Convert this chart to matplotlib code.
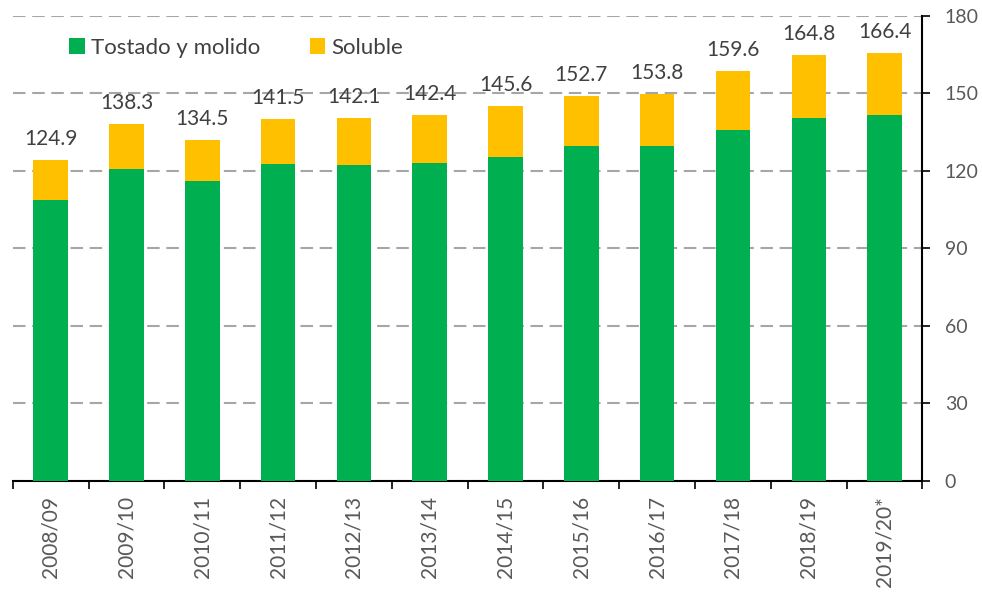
import numpy as np
import matplotlib
matplotlib.use("Agg")
import matplotlib.pyplot as plt

# Values
seasons = ["2008/09", "2009/10", "2010/11", "2011/12", "2012/13", "2013/14",
           "2014/15", "2015/16", "2016/17", "2017/18", "2018/19", "2019/20*"]
tostado = [108.7, 120.7, 116.0, 122.6, 122.1, 122.8,
           125.3, 129.6, 129.6, 135.6, 140.5, 141.5]
soluble = [15.3, 17.3, 15.8, 17.3, 18.2, 18.8,
           19.8, 19.3, 20.0, 22.9, 24.1, 23.9]
total_labels = ["124.9", "138.3", "134.5", "141.5", "142.1", "142.4",
                "145.6", "152.7", "153.8", "159.6", "164.8", "166.4"]

plt.rcParams['font.family'] = ['Lato', 'DejaVu Sans']

green = "#00B050"
yellow = "#FFC000"
text_col = "#404040"
tick_col = "#595959"

fig = plt.figure(figsize=(9.82, 5.92), dpi=100)
ax = fig.add_axes([0.013, 0.1883, 0.9264, 0.7852])

x = np.arange(len(seasons))
ax.bar(x, tostado, width=0.455, color=green, label="Tostado y molido", zorder=3)
ax.bar(x, soluble, width=0.455, bottom=tostado, color=yellow, label="Soluble", zorder=3)

tops = np.array(tostado) + np.array(soluble)
for xi, top, lab in zip(x, tops, total_labels):
    ax.annotate(lab, (xi, top), xytext=(0, 8), textcoords="offset points",
                ha="center", va="bottom", fontsize=15, color=text_col)

ax.set_xlim(-0.5, len(seasons) - 0.5)
ax.set_ylim(0, 180)

# right y axis
ax.yaxis.tick_right()
ax.set_yticks(np.arange(0, 181, 30))
ax.tick_params(axis="y", direction="out", length=6, width=1.2, colors="black",
               labelsize=14, pad=10)
for t in ax.get_yticklabels():
    t.set_color(tick_col)

ax.yaxis.grid(True, color="#A6A6A6", linewidth=1.5, linestyle=(0, (6, 3.2)), zorder=0)
ax.set_axisbelow(True)

# x ticks: labels at centers, tick marks at category boundaries
ax.set_xticks(x)
ax.set_xticklabels(seasons, rotation=90, fontsize=15, color=tick_col)
ax.tick_params(axis="x", which="major", length=0, pad=11)
ax.set_xticks(np.arange(-0.5, len(seasons)), minor=True)
ax.tick_params(axis="x", which="minor", direction="out", length=6, width=1.2, color="black")

for side in ["left", "top"]:
    ax.spines[side].set_visible(False)
ax.spines["bottom"].set_linewidth(1.5)
ax.spines["right"].set_linewidth(1.5)

leg = ax.legend(loc="upper left", bbox_to_anchor=(0.04, 0.995), ncol=2, frameon=False,
                fontsize=16, handlelength=0.7, handleheight=0.7, handletextpad=0.3,
                columnspacing=2.2)
for t in leg.get_texts():
    t.set_color(text_col)

fig.savefig("out.png", dpi=100)
